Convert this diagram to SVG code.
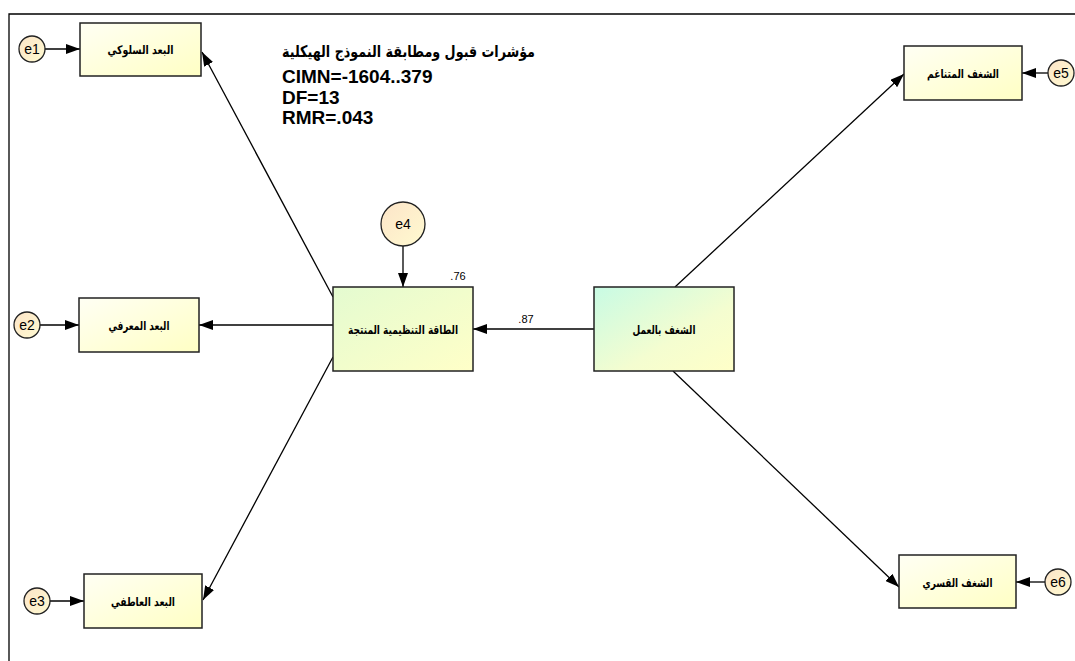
<svg xmlns="http://www.w3.org/2000/svg" width="1075" height="661" viewBox="0 0 1075 661">
<defs>
<style>
.box{stroke:#222;stroke-width:1.5}
.y{fill:url(#gy)}
.c{fill:url(#gc);stroke:#222;stroke-width:1.3}
.ln{stroke:#000;stroke-width:1.3;fill:none;marker-end:url(#ah)}
.lab{font-family:"DejaVu Sans","Liberation Sans",sans-serif;font-weight:bold;font-size:12px;fill:#000;text-anchor:middle}
.e{font-family:"Liberation Sans",Arial,sans-serif;font-size:14px;fill:#000;text-anchor:middle}
.num{font-family:"Liberation Sans",Arial,sans-serif;font-size:11px;fill:#000;text-anchor:middle}
.fit{font-family:"Liberation Sans",Arial,sans-serif;font-weight:bold;font-size:19px;fill:#000}
.ar{font-family:"DejaVu Sans","Liberation Sans",sans-serif;font-weight:bold;font-size:16px;fill:#000;text-anchor:end}
</style>
<linearGradient id="gy" x1="0" y1="0" x2="1" y2="1">
<stop offset="0" stop-color="#fffff4"/>
<stop offset="1" stop-color="#ffffc4"/>
</linearGradient>
<linearGradient id="gm" x1="0" y1="0" x2="1" y2="1">
<stop offset="0" stop-color="#e4fbd0"/>
<stop offset="1" stop-color="#ffffc8"/>
</linearGradient>
<linearGradient id="gr" x1="0" y1="0" x2="1" y2="1">
<stop offset="0" stop-color="#c8fbe4"/>
<stop offset="0.6" stop-color="#f4fdd0"/>
<stop offset="1" stop-color="#ffffc8"/>
</linearGradient>
<linearGradient id="gc" x1="0" y1="0" x2="1" y2="1">
<stop offset="0" stop-color="#fce4c8"/>
<stop offset="1" stop-color="#fffad0"/>
</linearGradient>
<marker id="ah" markerUnits="userSpaceOnUse" markerWidth="14" markerHeight="10" refX="14" refY="5" orient="auto">
<path d="M0,0 L14,5 L0,10 z" fill="#000"/>
</marker>
</defs>
<rect width="1075" height="661" fill="#fff"/>
<path d="M9,661 V14 H1075" fill="none" stroke="#000" stroke-width="1.3"/>

<g id="connectors">
<line class="ln" x1="45" y1="49" x2="80" y2="49"/>
<line class="ln" x1="40" y1="325" x2="79" y2="325"/>
<line class="ln" x1="50" y1="601" x2="84" y2="601"/>
<line class="ln" x1="403" y1="246" x2="403" y2="287"/>
<line class="ln" x1="1048" y1="73" x2="1022" y2="73"/>
<line class="ln" x1="1045" y1="582" x2="1016" y2="582"/>
<line class="ln" x1="594" y1="329" x2="473" y2="329"/>
<line class="ln" x1="333" y1="297" x2="202" y2="52"/>
<line class="ln" x1="333" y1="325" x2="199" y2="325"/>
<line class="ln" x1="333" y1="357" x2="203" y2="600"/>
<line class="ln" x1="675" y1="287" x2="904" y2="74"/>
<line class="ln" x1="673" y1="371" x2="899" y2="587"/>
<text class="num" x="458" y="280">.76</text>
<text class="num" x="526" y="323">.87</text>
</g>

<g id="n_b1"><rect class="box y" x="80" y="23" width="121" height="53"/><text class="lab" x="140.5" y="54" textLength="66" lengthAdjust="spacingAndGlyphs">البعد السلوكي</text></g>
<g id="n_b2"><rect class="box y" x="79" y="298" width="120" height="54"/><text class="lab" x="139" y="330" textLength="61" lengthAdjust="spacingAndGlyphs">البعد المعرفي</text></g>
<g id="n_b3"><rect class="box y" x="84" y="574" width="118" height="54"/><text class="lab" x="143" y="606" textLength="64" lengthAdjust="spacingAndGlyphs">البعد العاطفي</text></g>
<g id="n_mid"><rect class="box" fill="url(#gm)" x="333" y="287" width="140" height="84"/><text class="lab" x="403" y="334" textLength="110" lengthAdjust="spacingAndGlyphs">الطاقة التنظيمية المنتجة</text></g>
<g id="n_right"><rect class="box" fill="url(#gr)" x="594" y="287" width="140" height="84"/><text class="lab" x="664" y="334" textLength="63" lengthAdjust="spacingAndGlyphs">الشغف بالعمل</text></g>
<g id="n_b5"><rect class="box y" x="904" y="46" width="118" height="54"/><text class="lab" x="963" y="78" textLength="72" lengthAdjust="spacingAndGlyphs">الشغف المتناغم</text></g>
<g id="n_b6"><rect class="box y" x="899" y="555" width="117" height="53"/><text class="lab" x="957.5" y="587" textLength="70" lengthAdjust="spacingAndGlyphs">الشغف القسري</text></g>

<g id="n_e1"><circle class="c" cx="32" cy="49" r="13"/><text class="e" x="32" y="54">e1</text></g>
<g id="n_e2"><circle class="c" cx="27" cy="325" r="13"/><text class="e" x="27" y="330">e2</text></g>
<g id="n_e3"><circle class="c" cx="37" cy="601" r="13"/><text class="e" x="37" y="606">e3</text></g>
<g id="n_e4"><circle class="c" cx="403" cy="224" r="22"/><text class="e" x="403" y="229">e4</text></g>
<g id="n_e5"><circle class="c" cx="1061" cy="73" r="13"/><text class="e" x="1061" y="78">e5</text></g>
<g id="n_e6"><circle class="c" cx="1058" cy="582" r="13"/><text class="e" x="1058" y="587">e6</text></g>

<g id="fit">
<text class="ar" x="535" y="57" textLength="253" lengthAdjust="spacingAndGlyphs">مؤشرات قبول ومطابقة النموذج الهيكلية</text>
<text class="fit" x="282" y="83">CIMN=-1604..379</text>
<text class="fit" x="282" y="104">DF=13</text>
<text class="fit" x="282" y="124">RMR=.043</text>
</g>
</svg>
